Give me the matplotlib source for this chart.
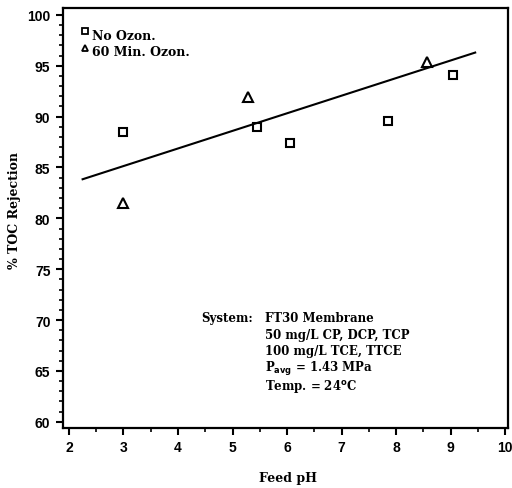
import matplotlib
matplotlib.use("Agg")
import matplotlib.pyplot as plt
from matplotlib.ticker import MultipleLocator
import numpy as np

# Feed pH vs. % TOC rejection
ph_no_ozon = [3.0, 5.45, 6.05, 7.85, 9.05]
rej_no_ozon = [88.5, 89.0, 87.4, 89.6, 94.1]

ph_60_ozon = [3.0, 5.28, 8.56]
rej_60_ozon = [81.5, 91.9, 95.4]

# linear fit line (intercept, slope) and its x extent
fit_intercept = 79.95
fit_slope = 1.73
fit_x_range = [2.25, 9.45]

x_ticks = [2, 3, 4, 5, 6, 7, 8, 9, 10]
y_ticks = [60, 65, 70, 75, 80, 85, 90, 95, 100]

serif = "DejaVu Serif"
sans = "Liberation Sans"

fig = plt.figure(figsize=(5.12, 4.89), dpi=100)
ax = fig.add_axes([0.123, 0.123, 0.869, 0.859])

ax.plot(ph_no_ozon, rej_no_ozon, linestyle="none", marker="s", markersize=6,
        markerfacecolor="white", markeredgecolor="black", markeredgewidth=1.5)
ax.plot(ph_60_ozon, rej_60_ozon, linestyle="none", marker="^", markersize=6.5,
        markerfacecolor="white", markeredgecolor="black", markeredgewidth=1.5)

fx = np.array(fit_x_range)
ax.plot(fx, fit_intercept + fit_slope * fx, color="black", linewidth=1.5)

ax.set_xlim(1.89, 10.05)
ax.set_ylim(59.4, 100.7)
ax.set_xticks(x_ticks)
ax.set_yticks(y_ticks)
ax.xaxis.set_minor_locator(MultipleLocator(0.5))
ax.yaxis.set_minor_locator(MultipleLocator(1))
ax.tick_params(which="major", direction="out", length=5, width=1.5,
               labelsize=10, pad=4)
ax.tick_params(which="minor", direction="out", length=3, width=1.2)
for lab in ax.get_xticklabels() + ax.get_yticklabels():
    lab.set_fontfamily(sans)
    lab.set_fontweight("bold")
for sp in ax.spines.values():
    sp.set_linewidth(1.6)

ax.set_xlabel("Feed pH", fontfamily=serif, fontweight="bold", fontsize=9)
ax.xaxis.set_label_coords(0.505, -0.102)
ax.set_ylabel("% TOC Rejection", fontfamily=serif, fontweight="bold",
              fontsize=9)
ax.yaxis.set_label_coords(-0.094, 0.52)

# legend drawn as marker + text pairs
ax.plot([2.29], [98.4], linestyle="none", marker="s", markersize=5,
        markerfacecolor="white", markeredgecolor="black", markeredgewidth=1.3)
ax.plot([2.29], [96.7], linestyle="none", marker="^", markersize=5,
        markerfacecolor="white", markeredgecolor="black", markeredgewidth=1.3)
ax.text(2.43, 98.0, "No Ozon.", fontfamily=serif, fontweight="bold",
        fontsize=9, va="center", ha="left")
ax.text(2.43, 96.4, "60 Min. Ozon.", fontfamily=serif, fontweight="bold",
        fontsize=9, va="center", ha="left")

# operating conditions
tx1, tx2 = 4.42, 5.6
ax.text(tx1, 70.22, "System:", fontfamily=serif, fontweight="bold",
        fontsize=8.5, va="center", ha="left")
cond_lines = ["FT30 Membrane",
              "50 mg/L CP, DCP, TCP",
              "100 mg/L TCE, TTCE",
              r"P$_{\mathbf{avg}}$ = 1.43 MPa",
              r"Temp. = 24$^{\mathbf{o}}$C"]
cond_y = [70.22, 68.55, 66.98, 65.3, 63.6]
for s, yy in zip(cond_lines, cond_y):
    ax.text(tx2, yy, s, fontfamily=serif, fontweight="bold", fontsize=8.5,
            va="center", ha="left")

fig.savefig("out.png", dpi=100)
